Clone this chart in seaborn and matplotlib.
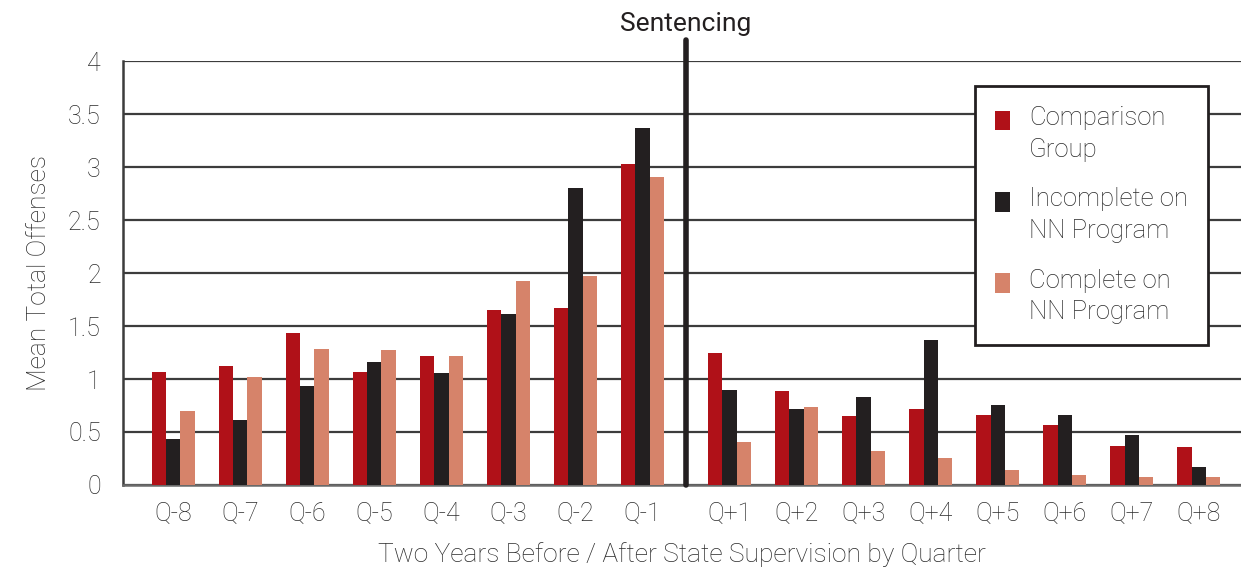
import numpy as np
import pandas as pd
import matplotlib
matplotlib.use('Agg')
import matplotlib.pyplot as plt
import matplotlib.patches as mpatches
from matplotlib.legend_handler import HandlerPatch
import seaborn as sns

sns.set_theme(style='white')
plt.rcParams['font.family'] = ['Roboto', 'DejaVu Sans']

quarters = ['Q-8', 'Q-7', 'Q-6', 'Q-5', 'Q-4', 'Q-3', 'Q-2', 'Q-1',
            'Q+1', 'Q+2', 'Q+3', 'Q+4', 'Q+5', 'Q+6', 'Q+7', 'Q+8']
comparison = [1.07, 1.12, 1.43, 1.07, 1.22, 1.65, 1.67, 3.03,
              1.25, 0.89, 0.65, 0.72, 0.66, 0.57, 0.37, 0.36]
incomplete = [0.43, 0.61, 0.93, 1.16, 1.06, 1.61, 2.80, 3.37,
              0.90, 0.72, 0.83, 1.37, 0.75, 0.66, 0.47, 0.17]
complete = [0.70, 1.02, 1.28, 1.27, 1.22, 1.92, 1.97, 2.91,
            0.41, 0.74, 0.32, 0.25, 0.14, 0.09, 0.08, 0.08]
groups = ['Comparison\nGroup', 'Incomplete on\nNN Program', 'Complete on\nNN Program']
colors = ['#B01118', '#231F20', '#D6836A']

# quarters after sentencing sit a bit further right, leaving room for the divider
xpos = [i for i in range(8)] + [i + 8.3 for i in range(8)]

df = pd.DataFrame({
    'x': xpos * 3,
    'value': comparison + incomplete + complete,
    'group': [g for g in groups for _ in quarters],
})

TXT = '#2a2a2a'

fig = plt.figure(figsize=(12.41, 5.8), dpi=100)
ax = fig.add_axes([0.0991, 0.1638, 0.9009, 0.731])

sns.barplot(data=df, x='x', y='value', hue='group', hue_order=groups,
            palette=colors, native_scale=True, width=0.64, saturation=1,
            linewidth=0, ax=ax, zorder=3)

ax.set_xlim(-0.75, 15.93)
ax.set_ylim(0, 4)
ax.set_yticks(np.arange(0, 4.01, 0.5))
ax.set_yticklabels(['0', '0.5', '1', '1.5', '2', '2.5', '3', '3.5', '4'])
ax.set_xticks(xpos)
ax.set_xticklabels(quarters)
ax.tick_params(axis='y', pad=16, labelsize=18, colors=TXT, length=0)
ax.tick_params(axis='x', pad=12, labelsize=18, colors=TXT, length=0)
for lab in ax.get_xticklabels() + ax.get_yticklabels():
    lab.set_fontweight('light')

ax.yaxis.grid(True, color='#3c3c3c', linewidth=1.6, zorder=0)
ax.set_axisbelow(True)
for side in ['top', 'right']:
    ax.spines[side].set_visible(False)
ax.spines['left'].set_color('#3c3c3c')
ax.spines['left'].set_linewidth(1.8)
ax.spines['bottom'].set_color('#6a6a6a')
ax.spines['bottom'].set_linewidth(1.8)

ax.set_xlabel('Two Years Before / After State Supervision by Quarter',
              fontsize=19, color=TXT, fontweight='light', labelpad=12)
ax.set_ylabel('Mean Total Offenses', fontsize=19, color=TXT,
              fontweight='light', labelpad=12)

# sentencing divider
ax.plot([7.65, 7.65], [0, 4.2], color='#231F20', linewidth=4, clip_on=False, zorder=5)
ax.text(7.65, 4.35, 'Sentencing', ha='center', va='center', fontsize=19,
        color='#231F20', clip_on=False)


# legend squares sit next to the first line of each two-line label
def top_square(legend, orig_handle, xdescent, ydescent, width, height, fontsize):
    return mpatches.Rectangle((-xdescent, -ydescent + 0.55 * fontsize), width, height)


handles, labels = ax.get_legend_handles_labels()
ax.get_legend().remove()
leg = ax.legend(handles, labels, loc='upper left', bbox_to_anchor=(0.762, 0.942),
                frameon=True, fancybox=False, framealpha=1, fontsize=18.5,
                handlelength=0.55, handleheight=0.8, handletextpad=0.75,
                labelspacing=1.0, borderpad=0.8, borderaxespad=0,
                handler_map={mpatches.Rectangle: HandlerPatch(patch_func=top_square)})
leg.set_zorder(10)
frame = leg.get_frame()
frame.set_edgecolor('#231F20')
frame.set_facecolor('white')
frame.set_linewidth(2)
for t in leg.get_texts():
    t.set_color(TXT)
    t.set_fontweight('light')
    t.set_linespacing(1.4)

fig.savefig('out.png', dpi=100)
